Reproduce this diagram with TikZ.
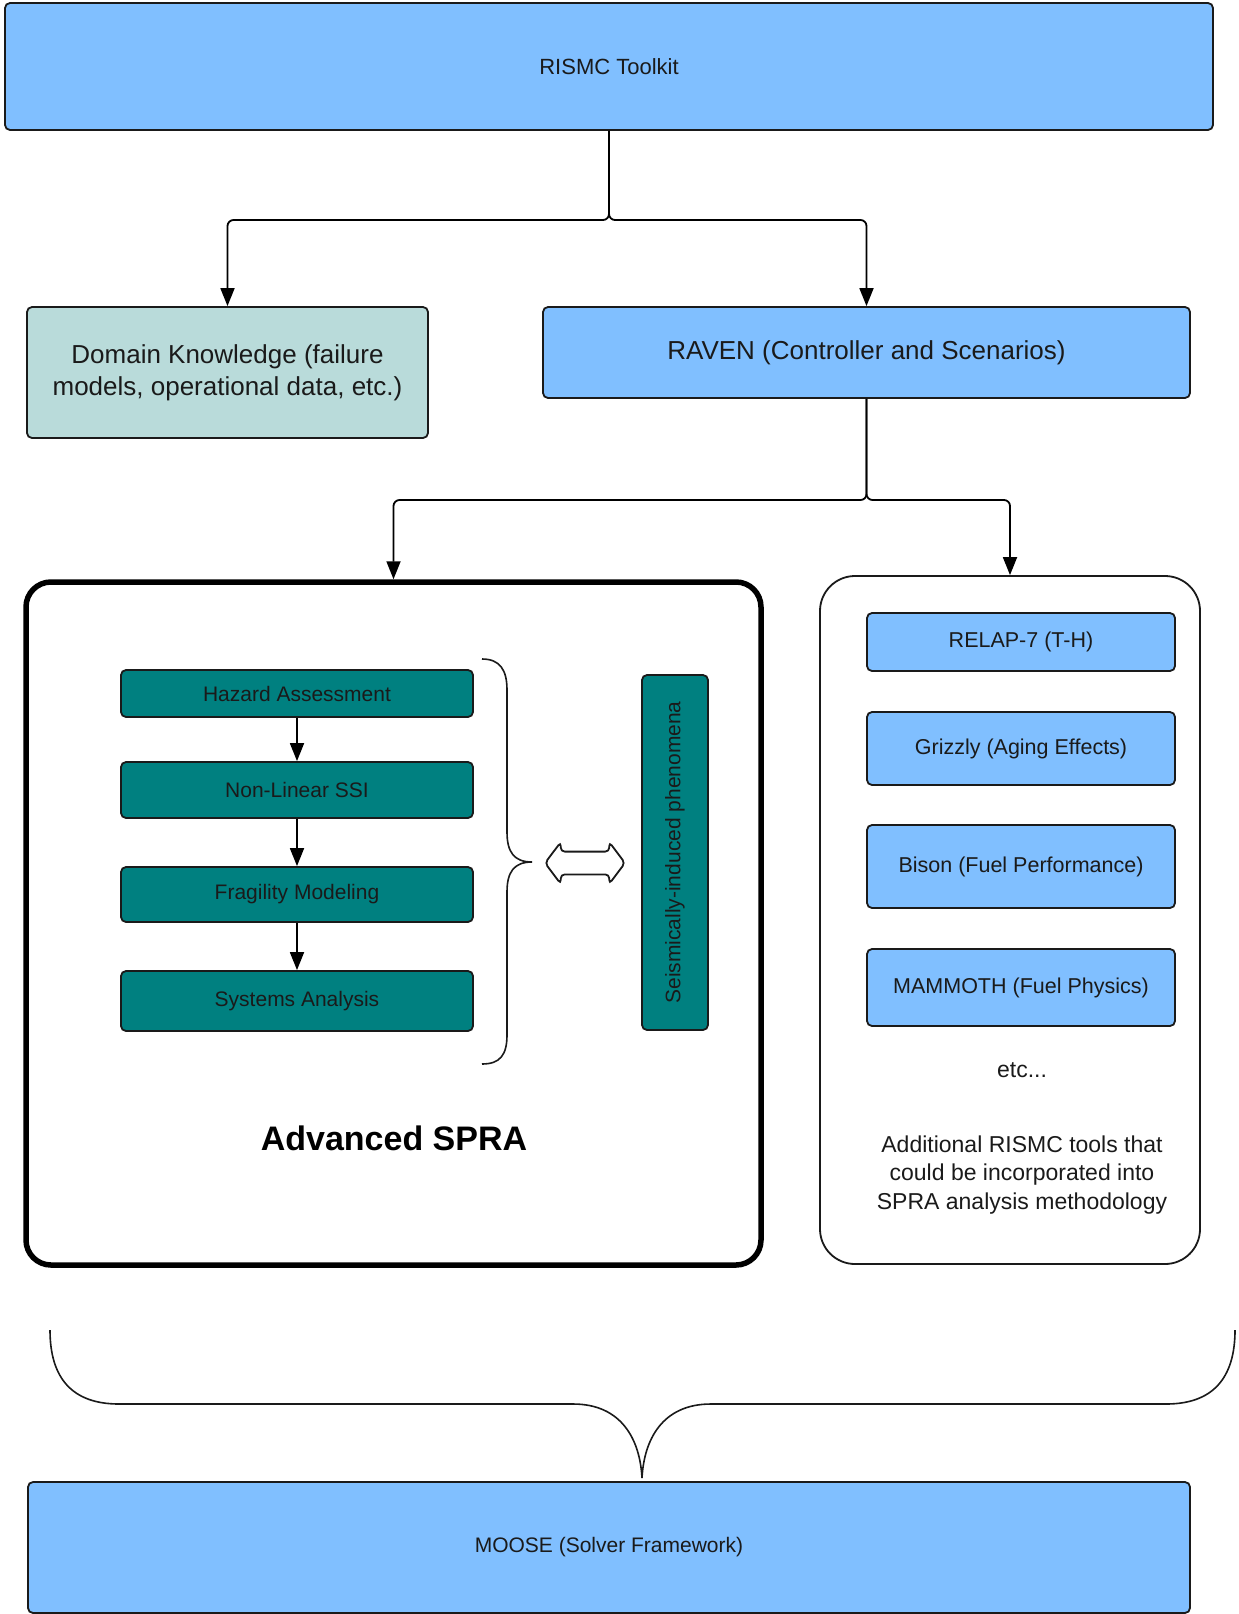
\documentclass[tikz,border=0pt]{standalone}
\usepackage{fontspec}
\setmainfont{Liberation Sans}
\usetikzlibrary{arrows.meta,shapes.arrows}
\definecolor{bluefill}{HTML}{80BFFF}
\definecolor{tealfill}{HTML}{008080}
\definecolor{domfill}{HTML}{B9DBDA}
\definecolor{edge}{HTML}{1A1A1A}
\begin{document}
\begin{tikzpicture}[x=1pt,y=-1pt,
  box/.style={draw=edge, line width=1.8pt, rounded corners=5pt, inner sep=0pt, align=center, text=edge},
  bluebox/.style={box, fill=bluefill},
  tealbox/.style={box, fill=tealfill, font=\fontsize{21}{25}\selectfont},
  toolbox/.style={box, fill=bluefill, minimum width=308pt, font=\fontsize{21.5}{26}\selectfont},
  conn/.style={draw=black, line width=1.8pt, rounded corners=6pt, -{Triangle[length=18pt,width=14pt]}},
  bracestyle/.style={draw=edge, line width=1.6pt}]
\useasboundingbox (0,0) rectangle (1239,1614);
\clip (0,0) rectangle (1239,1614);

% top
\node[bluebox, minimum width=1208pt, minimum height=127pt, font=\fontsize{22}{26}\selectfont] (rismc) at (609,66.5) {RISMC Toolkit};
\node[box, fill=domfill, minimum width=401pt, minimum height=131pt, font=\fontsize{26}{32}\selectfont] (domain) at (227.5,372.5) {Domain Knowledge (failure\\models, operational data, etc.)};
\node[bluebox, minimum width=647pt, minimum height=91pt, font=\fontsize{26}{31}\selectfont] (raven) at (866.5,352.5) {RAVEN (Controller and Scenarios)};

\coordinate (split1) at (609,220);
\draw[conn] (rismc.south) -- (split1) -| (domain.north);
\draw[conn] (rismc.south) -- (split1) -| (raven.north);

% containers
\node[draw=black, line width=5.5pt, rounded corners=25pt, minimum width=735pt, minimum height=683pt] (spra) at (393.5,923.5) {};
\node[draw=edge, line width=1.8pt, rounded corners=35pt, minimum width=380pt, minimum height=688pt] (tools) at (1010,920) {};

\coordinate (split2) at (866.5,500);
\draw[conn] (raven.south) -- (split2) -| (spra.north);
\draw[conn] (raven.south) -- (split2) -| (tools.north);

% SPRA steps
\node[tealbox, minimum width=352pt, minimum height=47pt] (haz) at (297,693.5) {Hazard Assessment};
\node[tealbox, minimum width=352pt, minimum height=56pt] (ssi) at (297,790) {Non-Linear SSI};
\node[tealbox, minimum width=352pt, minimum height=55pt] (frag) at (297,894.5) {Fragility Modeling};
\node[tealbox, minimum width=352pt, minimum height=60pt] (sys) at (297,1001) {Systems Analysis};
\draw[conn] (haz.south) -- (ssi.north);
\draw[conn] (ssi.south) -- (frag.north);
\draw[conn] (frag.south) -- (sys.north);

\node[tealbox, minimum width=355pt, minimum height=66pt, rotate=90] (seis) at (675,852.5) {Seismically-induced phenomena};

% brace right of steps
\draw[bracestyle] (482,659) .. controls (500,659) and (507,670) .. (507,690) -- (507,832)
  .. controls (507,852) and (514,862) .. (532,862)
  .. controls (514,862) and (507,872) .. (507,892) -- (507,1035)
  .. controls (507,1055) and (500,1064) .. (482,1064);

\node[double arrow, draw=edge, fill=white, line width=1.8pt, inner sep=0pt, text height=10.5pt, text depth=10.5pt, minimum height=80pt, double arrow head extend=9.5pt, double arrow tip angle=106, rounded corners=4pt] (darrow) at (585,863) {};

\node[font=\fontsize{34}{40}\selectfont\bfseries, text=black] (spralabel) at (394,1138) {Advanced SPRA};

% tools
\node[toolbox, minimum height=58pt] (relap) at (1021,642) {RELAP-7 (T-H)};
\node[toolbox, minimum height=73pt] (grizzly) at (1021,748.5) {Grizzly (Aging Effects)};
\node[toolbox, minimum height=83pt] (bison) at (1021,866.5) {Bison (Fuel Performance)};
\node[toolbox, minimum height=77pt] (mammoth) at (1021,987.5) {MAMMOTH (Fuel Physics)};
\node[font=\fontsize{23}{28}\selectfont, text=edge] (etc) at (1022,1070) {etc...};
\node[font=\fontsize{23}{28.5}\selectfont, align=center, text=edge] (addl) at (1022,1175) {Additional RISMC tools that\\could be incorporated into\\SPRA analysis methodology};

% bottom brace and MOOSE
\draw[bracestyle] (50,1330) .. controls (50,1378) and (72,1404) .. (119,1404) -- (573,1404)
  .. controls (622,1404) and (640,1440) .. (642,1478)
  .. controls (644,1440) and (662,1404) .. (711,1404) -- (1166,1404)
  .. controls (1213,1404) and (1235,1378) .. (1235,1330);
\node[bluebox, minimum width=1162pt, minimum height=131pt, font=\fontsize{21}{25}\selectfont] (moose) at (609,1547.5) {MOOSE (Solver Framework)};
\end{tikzpicture}
\end{document}
